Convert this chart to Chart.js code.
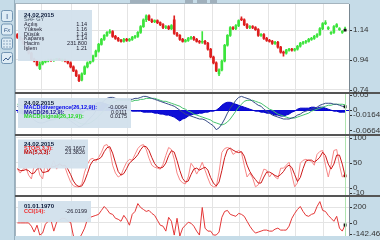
<!DOCTYPE html>
<html>
<head>
<meta charset="utf-8">
<script src="https://cdn.jsdelivr.net/npm/chart.js@4/dist/chart.umd.min.js"></script>
<style>
  html, body { margin: 0; padding: 0; background: #c6dce8; }
  #wrap { width: 380px; height: 240px; }
</style>
</head>
<body>
<div id="wrap"><canvas id="myChart" width="380" height="240"></canvas></div>
<script>
// daily candles SAFGY (open / high / low / close)
var opens = [
  1.110,1.091,1.077,1.051,1.025,0.985,0.945,0.932,0.880,0.912,
  0.926,0.932,0.939,0.935,0.941,0.945,0.939,0.942,0.932,0.919,
  0.893,0.866,0.833,0.805,0.846,0.893,0.919,0.932,0.965,0.998,
  1.044,1.077,1.104,1.124,1.130,1.097,1.084,1.071,1.064,1.077,
  1.071,1.077,1.091,1.097,1.124,1.163,1.209,1.236,1.209,1.196,
  1.203,1.190,1.176,1.157,1.163,1.150,1.209,1.117,1.104,1.077,
  1.064,1.071,1.084,1.091,1.077,1.064,1.058,1.064,1.051,1.011,
  0.959,0.919,0.846,0.872,0.932,1.038,1.104,1.157,1.150,1.170,
  1.216,1.209,1.176,1.157,1.163,1.157,1.143,1.104,1.110,1.084,
  1.071,1.064,1.051,1.058,1.025,0.992,0.985,1.005,1.011,1.005,
  1.011,1.031,1.051,1.058,1.064,1.077,1.084,1.097,1.110,1.150,
  1.183,1.150,1.117,1.124,1.163,1.143,1.124,1.137
];
var highs = [
  1.117,1.097,1.084,1.058,1.031,0.992,0.952,0.939,0.926,0.932,
  0.939,0.945,0.945,0.945,0.950,0.950,0.945,0.945,0.939,0.926,
  0.899,0.872,0.840,0.853,0.899,0.926,0.939,0.972,1.005,1.051,
  1.084,1.110,1.130,1.143,1.137,1.104,1.091,1.077,1.084,1.084,
  1.084,1.097,1.104,1.130,1.170,1.216,1.243,1.243,1.216,1.209,
  1.209,1.196,1.183,1.170,1.170,1.176,1.236,1.124,1.110,1.084,
  1.077,1.091,1.097,1.097,1.084,1.071,1.130,1.071,1.058,1.018,
  0.965,0.926,0.879,0.939,1.044,1.110,1.163,1.163,1.176,1.209,
  1.229,1.216,1.183,1.170,1.170,1.163,1.150,1.117,1.117,1.091,
  1.077,1.071,1.064,1.064,1.031,0.998,1.011,1.018,1.018,1.018,
  1.038,1.058,1.064,1.071,1.084,1.091,1.104,1.117,1.157,1.190,
  1.203,1.163,1.130,1.170,1.183,1.157,1.137,1.160
];
var lows = [
  1.084,1.071,1.044,1.018,0.978,0.939,0.926,0.899,0.873,0.905,
  0.919,0.926,0.930,0.930,0.935,0.935,0.932,0.926,0.912,0.886,
  0.860,0.826,0.793,0.799,0.840,0.886,0.912,0.926,0.959,0.992,
  1.038,1.071,1.097,1.117,1.091,1.077,1.064,1.058,1.058,1.064,
  1.064,1.071,1.084,1.091,1.117,1.157,1.196,1.203,1.190,1.190,
  1.183,1.170,1.150,1.150,1.143,1.143,1.110,1.097,1.071,1.058,
  1.058,1.064,1.077,1.071,1.058,1.051,1.051,1.044,1.005,0.952,
  0.912,0.860,0.833,0.866,0.926,1.031,1.097,1.143,1.143,1.163,
  1.203,1.170,1.150,1.150,1.150,1.137,1.097,1.097,1.077,1.064,
  1.058,1.044,1.044,1.018,0.985,0.965,0.978,0.998,0.998,0.998,
  1.005,1.025,1.044,1.051,1.058,1.071,1.077,1.091,1.104,1.143,
  1.176,1.143,1.110,1.117,1.157,1.137,1.117,1.137
];
var closes = [
  1.091,1.077,1.051,1.025,0.985,0.945,0.932,0.905,0.912,0.926,
  0.932,0.939,0.935,0.941,0.945,0.939,0.942,0.932,0.919,0.893,
  0.866,0.833,0.800,0.846,0.893,0.919,0.932,0.965,0.998,1.044,
  1.077,1.104,1.124,1.130,1.097,1.084,1.071,1.064,1.077,1.071,
  1.077,1.091,1.097,1.124,1.163,1.209,1.236,1.209,1.196,1.203,
  1.190,1.176,1.157,1.163,1.150,1.170,1.117,1.104,1.077,1.064,
  1.071,1.084,1.091,1.077,1.064,1.058,1.064,1.051,1.011,0.959,
  0.919,0.866,0.872,0.932,1.038,1.104,1.157,1.150,1.170,1.203,
  1.209,1.176,1.157,1.163,1.157,1.143,1.104,1.110,1.084,1.071,
  1.064,1.051,1.058,1.025,0.992,0.985,1.005,1.011,1.005,1.011,
  1.031,1.051,1.058,1.064,1.077,1.084,1.097,1.110,1.150,1.183,
  1.190,1.157,1.124,1.163,1.176,1.150,1.130,1.140
];

// MACD(26,12,9)
var macdLine = [
  0.0129,0.0065,0,-0.0065,-0.0161,-0.0258,-0.0323,-0.0387,-0.0419,-0.0419,
  -0.0387,-0.0355,-0.0323,-0.0290,-0.0258,-0.0226,-0.0226,-0.0258,-0.0290,-0.0355,
  -0.0419,-0.0484,-0.0548,-0.0516,-0.0452,-0.0355,-0.0258,-0.0161,-0.0032,0.0097,
  0.0226,0.0323,0.0387,0.0419,0.0419,0.0387,0.0355,0.0355,0.0355,0.0355,
  0.0355,0.0355,0.0387,0.0387,0.0419,0.0452,0.0452,0.0419,0.0387,0.0355,
  0.0323,0.0290,0.0258,0.0226,0.0194,0.0161,0.0129,0.0065,0,-0.0065,
  -0.0129,-0.0161,-0.0194,-0.0226,-0.0258,-0.0290,-0.0290,-0.0323,-0.0387,-0.0452,
  -0.0516,-0.0640,-0.0581,-0.0452,-0.0290,-0.0097,0.0065,0.0194,0.0323,0.0419,
  0.0452,0.0419,0.0387,0.0355,0.0290,0.0226,0.0161,0.0129,0.0032,-0.0032,
  -0.0097,-0.0161,-0.0194,-0.0226,-0.0258,-0.0290,-0.0290,-0.0290,-0.0258,-0.0226,
  -0.0161,-0.0129,-0.0065,-0.0032,0,0.0032,0.0065,0.0097,0.0161,0.0194,
  0.0226,0.0226,0.0226,0.0194,0.0194,0.0161,0.0129,0.0111
];
var macdSignal = [
  0.0194,0.0161,0.0129,0.0065,0,-0.0065,-0.0129,-0.0194,-0.0258,-0.0290,
  -0.0323,-0.0323,-0.0323,-0.0323,-0.0290,-0.0290,-0.0258,-0.0258,-0.0258,-0.0290,
  -0.0323,-0.0355,-0.0419,-0.0452,-0.0452,-0.0452,-0.0419,-0.0355,-0.0290,-0.0194,
  -0.0097,0,0.0097,0.0194,0.0258,0.0290,0.0323,0.0323,0.0323,0.0323,
  0.0323,0.0290,0.0323,0.0323,0.0355,0.0355,0.0387,0.0387,0.0387,0.0387,
  0.0355,0.0323,0.0290,0.0290,0.0258,0.0226,0.0194,0.0161,0.0129,0.0065,
  0.0032,-0.0032,-0.0065,-0.0129,-0.0161,-0.0194,-0.0226,-0.0258,-0.0290,-0.0323,
  -0.0387,-0.0419,-0.0452,-0.0484,-0.0452,-0.0387,-0.0290,-0.0161,-0.0032,0.0097,
  0.0194,0.0290,0.0323,0.0323,0.0323,0.0290,0.0258,0.0226,0.0161,0.0097,
  0.0032,0,-0.0065,-0.0129,-0.0161,-0.0194,-0.0226,-0.0258,-0.0258,-0.0258,
  -0.0226,-0.0194,-0.0161,-0.0129,-0.0097,-0.0032,0,0.0032,0.0065,0.0097,
  0.0129,0.0161,0.0161,0.0194,0.0194,0.0194,0.0194,0.0175
];
var macdHist = [
  -0.0065,-0.0097,-0.0129,-0.0129,-0.0161,-0.0194,-0.0194,-0.0194,-0.0161,-0.0129,
  -0.0097,-0.0065,-0.0032,0,0.0032,0.0065,0.0065,0.0032,0,-0.0032,
  -0.0065,-0.0097,-0.0129,-0.0097,-0.0032,0.0032,0.0097,0.0161,0.0226,0.0258,
  0.0258,0.0226,0.0194,0.0161,0.0129,0.0097,0.0065,0.0032,0.0032,0,
  0,-0.0032,-0.0032,-0.0032,-0.0032,-0.0065,-0.0065,-0.0065,-0.0065,-0.0097,
  -0.0097,-0.0129,-0.0129,-0.0161,-0.0161,-0.0194,-0.0226,-0.0290,-0.0355,-0.0290,
  -0.0258,-0.0194,-0.0161,-0.0129,-0.0129,-0.0097,-0.0097,-0.0065,-0.0065,-0.0032,
  -0.0032,0,0.0065,0.0161,0.0226,0.0258,0.0258,0.0226,0.0194,0.0161,
  0.0129,0.0097,0.0065,0.0032,0,-0.0032,-0.0032,-0.0065,-0.0065,-0.0097,
  -0.0097,-0.0129,-0.0161,-0.0161,-0.0194,-0.0194,-0.0161,-0.0129,-0.0065,-0.0032,
  0.0032,0.0065,0.0065,0.0065,0.0065,0.0097,0.0097,0.0065,0.0097,0.0097,
  0.0065,0.0032,0,-0.0032,-0.0032,-0.0065,-0.0065,-0.0064
];

// STO(5,3,3) and its MA
var stoK = [
  36.9,29.0,36.9,40.8,25.0,17.2,44.8,48.7,25.0,17.2,
  50.7,31.0,40.8,54.6,36.9,48.7,44.8,40.8,25.0,11.2,
  3.4,1.4,1.4,7.3,31.0,46.7,56.6,58.6,52.7,60.5,
  70.4,84.2,86.2,76.3,44.8,29.0,21.1,25.0,38.8,50.7,
  56.6,54.6,66.5,78.3,84.2,86.2,76.3,58.6,44.8,40.8,
  38.8,36.9,46.7,64.5,80.3,76.3,56.6,29.0,15.2,9.3,
  7.3,21.1,48.7,40.8,27.0,36.9,50.7,34.9,19.1,5.3,
  1.4,1.4,31.0,70.4,78.3,80.3,78.3,66.5,70.4,74.3,
  70.4,44.8,21.1,29.0,19.1,1.4,5.3,21.1,36.9,34.9,
  21.1,29.0,21.1,17.2,38.8,38.8,44.8,50.7,25.0,1.4,
  9.3,48.7,54.6,56.6,54.6,52.7,44.8,66.5,72.4,74.3,
  44.8,21.1,44.8,74.3,76.3,44.8,21.1,26.2
];
var stoMa = [
  38,34,34,36,34,28,29,37,40,30,
  31,33,41,42,44,47,43,45,37,26,
  13,5,2,3,13,28,45,54,56,57,
  61,72,80,82,69,50,32,25,28,38,
  49,54,59,66,76,83,82,74,60,48,
  41,39,41,49,64,74,71,54,34,18,
  11,13,26,37,39,35,38,41,35,20,
  9,3,11,34,60,76,79,75,72,70,
  72,63,45,32,23,16,9,9,21,31,
  31,28,24,22,26,32,41,45,40,26,
  12,20,38,53,55,55,51,55,61,71,
  64,47,37,47,65,65,47,23.4
];

// CCI(14)
var cci = [
  0,0,0,0,0,-41,-116,-29,-154,-129,
  -16,21,34,-104,9,34,59,59,21,9,
  -166,-191,-204,-141,-66,46,71,84,96,109,
  159,209,171,121,109,59,46,21,96,46,
  -29,109,146,246,196,171,146,159,121,96,
  34,-29,-41,-104,71,21,-154,59,-166,-66,
  -29,9,-4,-41,-104,-154,196,-66,-104,-104,
  -154,-154,-116,71,146,159,109,96,84,121,
  109,84,21,-41,-91,-129,-116,-104,-91,-91,
  -104,-104,-79,-66,-91,-91,-91,-41,59,121,
  171,209,146,96,84,109,121,209,271,159,
  146,96,59,21,84,-66,-104,-26.02
];

// month grid positions (in bar units) and right axis labels
var monthTicks = [8.78, 19.14, 29.13, 39.49, 49.49, 59.84, 69.84, 79.48, 89.48, 99.47, 109.47];
var priceTicks = [1.14, 0.94, 0.74];
var macdTicks = [0.05, 0, -0.0164, -0.0664];
var stoTicks = [100, 50, 0, -10];
var cciTicks = [200, 0, -142.4645];

// info boxes
var infoDate = '24.02.2015';
var symbol = 'SAF GY';
var priceInfoLabels = ['Açılış', 'Yüksek', 'Düşük', 'Kapanış', 'Hacim', 'İşlem'];
var priceInfoValues = ['1.14', '1.16', '1.14', '1.14', '231.800', '1.21'];
var macdInfoLabels = ['MACD(divergence(26,12,9)):', 'MACD(26,12,9):', 'MACD(signal(26,12,9)):'];
var macdInfoValues = ['-0.0064', '0.0111', '0.0175'];
var stoInfoLabels = ['STO(5,3,3):', 'MA(5,3,3):'];
var stoInfoValues = ['26.1667', '23.3826'];
var cciDate = '01.01.1970';
var cciInfoLabels = ['CCI(14):'];
var cciInfoValues = ['-26.0199'];

var N = closes.length;
var idx = closes.map(function (c, i) { return i; });
var UP = 'rgb(60,228,60)', DOWN = 'rgb(222,30,30)';
var FONT = '"Liberation Sans", Arial, sans-serif';

function candleColor(c) {
  var i = c.dataIndex;
  return closes[i] >= opens[i] ? UP : DOWN;
}
function lastOnly(r) {
  return function (c) { return c.dataIndex === N - 1 ? r : 0; };
}
function panelScale(order, weight, min, max, gridVals, gridColor) {
  return {
    type: 'linear', position: 'right', stack: 'panels', stackWeight: weight, weight: order,
    min: min, max: max, offset: false,
    ticks: { display: false },
    border: { display: false },
    grid: { drawTicks: false, color: gridColor || 'rgb(228,228,228)', lineWidth: 1 },
    afterBuildTicks: function (s) { s.ticks = gridVals.map(function (v) { return { value: v }; }); },
    afterFit: function (s) { s.width = 31; }
  };
}

function text(c, s, x, y, color, font, align) {
  c.fillStyle = color;
  c.font = font;
  c.textAlign = align || 'left';
  c.textBaseline = 'middle';
  c.fillText(s, x, y);
}
function infoBox(c, x, y, w, h) {
  c.fillStyle = 'rgba(210,225,236,0.96)';
  c.fillRect(x, y, w, h);
}

var deco = {
  id: 'deco',
  beforeDraw: function (chart) {
    var c = chart.ctx, a = chart.chartArea;
    c.save();
    c.fillStyle = '#c6dce8';
    c.fillRect(0, 0, chart.width, chart.height);
    c.fillStyle = '#ffffff';
    c.fillRect(a.left, a.top, a.right - a.left, a.bottom - a.top);
    c.restore();
  },
  afterDraw: function (chart) {
    var c = chart.ctx, a = chart.chartArea, sc = chart.scales;
    c.save();

    // crosshair on the last bar
    var lx = Math.round(sc.x.getPixelForValue(N - 1)) + 0.5;
    c.strokeStyle = 'rgb(175,228,175)';
    c.lineWidth = 1;
    c.beginPath(); c.moveTo(lx, sc.yM.top); c.lineTo(lx, a.bottom); c.stroke();

    // info boxes
    var bold = 'bold 6px ' + FONT, small = '5.5px ' + FONT;
    infoBox(c, 18, 10, 74, 51);
    text(c, infoDate, 24, 15, '#0a1838', bold);
    text(c, symbol, 24, 19.5, '#4a5a6a', small);
    priceInfoLabels.forEach(function (l, k) {
      text(c, l, 24, 24.5 + k * 4.8, '#223', small);
      text(c, priceInfoValues[k], 87, 24.5 + k * 4.8, '#223', small, 'right');
    });

    infoBox(c, 18, 98, 113, 30);
    text(c, infoDate, 24, 103, '#0a1838', bold);
    var macdCols = ['rgb(0,0,235)', 'rgb(20,20,140)', 'rgb(40,215,40)'];
    macdInfoLabels.forEach(function (l, k) {
      text(c, l, 24, 107.5 + k * 4.6, macdCols[k], 'bold 5.5px ' + FONT);
      text(c, macdInfoValues[k], 127, 107.5 + k * 4.6, '#223', small, 'right');
    });

    infoBox(c, 18, 139.5, 70, 29);
    text(c, infoDate, 24, 144, '#0a1838', bold);
    var stoCols = ['rgb(240,40,40)', 'rgb(190,0,0)'];
    stoInfoLabels.forEach(function (l, k) {
      text(c, l, 24, 148.3 + k * 4.3, stoCols[k], 'bold 5.5px ' + FONT);
      text(c, stoInfoValues[k], 85, 148.3 + k * 4.3, '#223', small, 'right');
    });

    infoBox(c, 18, 201, 73, 21);
    text(c, cciDate, 24, 206.5, '#0a1838', bold);
    cciInfoLabels.forEach(function (l, k) {
      text(c, l, 24, 211 + k * 4.3, 'rgb(240,40,40)', 'bold 5.5px ' + FONT);
      text(c, cciInfoValues[k], 87, 211 + k * 4.3, '#223', small, 'right');
    });

    // right panel border and top border
    c.fillStyle = 'rgb(120,135,145)';
    c.fillRect(a.right, a.top, 1, a.bottom - a.top);
    c.fillStyle = 'rgb(165,180,190)';
    c.fillRect(a.left - 1, a.top - 1, a.right - a.left + 1, 1);
    c.fillRect(a.left - 1, a.top, 1, a.bottom - a.top);

    // panel separators
    c.fillStyle = 'rgb(85,85,85)';
    [sc.yM.top, sc.yS.top, sc.yC.top].forEach(function (y) {
      c.fillRect(a.left - 1, Math.round(y) - 1, chart.width - a.left + 1, 2);
    });

    // right axis labels
    var lab = '8px ' + FONT;
    [[sc.yP, priceTicks], [sc.yM, macdTicks], [sc.yS, stoTicks], [sc.yC, cciTicks]].forEach(function (p) {
      p[1].forEach(function (v) {
        var y = p[0].getPixelForValue(v);
        c.fillStyle = '#333';
        c.fillRect(a.right + 1, Math.round(y), 2, 1);
        text(c, String(v), a.right + 4, y, '#333', lab);
      });
    });

    // left tool buttons
    c.fillStyle = 'rgb(150,175,190)';
    c.fillRect(14, 0, 1, chart.height);
    [10, 23.5, 37.5, 52].forEach(function (y, k) {
      c.fillStyle = 'rgb(222,236,245)';
      c.strokeStyle = 'rgb(115,150,180)';
      c.beginPath();
      c.roundRect(1.5, y + 0.5, 11, 11, 2);
      c.fill(); c.stroke();
      c.strokeStyle = 'rgb(60,95,140)';
      c.fillStyle = 'rgb(60,95,140)';
      if (k === 0) {
        text(c, 'I', 7, y + 6.5, 'rgb(60,95,140)', '8px ' + FONT, 'center');
      } else if (k === 1) {
        text(c, 'Fx', 7, y + 6.5, 'rgb(60,95,140)', 'italic 6px ' + FONT, 'center');
      } else if (k === 2) {
        for (var r = 0; r < 3; r++) for (var q = 0; q < 3; q++) c.fillRect(3.5 + q * 3, y + 3 + r * 3, 1, 1);
      } else {
        c.beginPath(); c.moveTo(3, y + 9); c.lineTo(6, y + 6); c.lineTo(8, y + 8); c.lineTo(11, y + 4); c.stroke();
      }
    });

    // top toolbar bits
    c.fillStyle = 'rgb(160,176,188)';
    [[130, 20], [185, 8], [197, 10], [210, 7]].forEach(function (t) { c.fillRect(t[0], 0, t[1], 3); });

    c.restore();
  }
};

var ctx = document.getElementById('myChart').getContext('2d');
var chart = new Chart(ctx, {
  type: 'bar',
  data: {
    labels: idx,
    datasets: [
      // price panel
      {
        type: 'line', label: 'last', yAxisID: 'yP', data: closes, showLine: false,
        pointRadius: lastOnly(2), pointStyle: 'rect', pointBackgroundColor: '#111', pointBorderWidth: 0
      },
      {
        label: 'body', yAxisID: 'yP', grouped: false, barThickness: 2, minBarLength: 1,
        data: opens.map(function (o, i) { return { x: i, y: [o, closes[i]] }; }),
        backgroundColor: candleColor
      },
      {
        label: 'wick', yAxisID: 'yP', grouped: false, barThickness: 1,
        data: lows.map(function (l, i) { return { x: i, y: [l, highs[i]] }; }),
        backgroundColor: candleColor
      },
      // MACD panel
      {
        type: 'line', label: 'MACD', yAxisID: 'yM', data: macdLine,
        borderColor: 'rgb(55,75,135)', borderWidth: 1, pointRadius: lastOnly(2),
        pointStyle: 'rect', pointBackgroundColor: '#111', pointBorderWidth: 0, tension: 0
      },
      {
        type: 'line', label: 'signal', yAxisID: 'yM', data: macdSignal,
        borderColor: 'rgb(70,195,110)', borderWidth: 1, pointRadius: 0, tension: 0
      },
      {
        type: 'line', label: 'divergence', yAxisID: 'yM', data: macdHist,
        borderColor: 'rgb(0,0,200)', backgroundColor: 'rgb(15,15,215)', fill: 'origin',
        borderWidth: 1, pointRadius: 0, tension: 0
      },
      // STO panel
      {
        type: 'line', label: 'MA', yAxisID: 'yS', data: stoMa,
        borderColor: 'rgb(205,25,25)', borderWidth: 1, pointRadius: lastOnly(2),
        pointStyle: 'rect', pointBackgroundColor: 'rgb(150,0,0)', pointBorderWidth: 0, tension: 0
      },
      {
        type: 'line', label: 'STO', yAxisID: 'yS', data: stoK,
        borderColor: 'rgb(248,135,135)', borderWidth: 1, pointRadius: 0, tension: 0
      },
      // CCI panel
      {
        type: 'line', label: 'CCI', yAxisID: 'yC', data: cci,
        borderColor: 'rgb(228,55,55)', borderWidth: 1, pointRadius: lastOnly(2),
        pointStyle: 'rect', pointBackgroundColor: '#111', pointBorderWidth: 0, tension: 0
      }
    ]
  },
  options: {
    responsive: false,
    animation: false,
    events: [],
    layout: { padding: { left: 16, top: 4, right: 0, bottom: 0 } },
    plugins: { legend: { display: false }, tooltip: { enabled: false } },
    scales: {
      x: {
        type: 'linear', min: -0.5, max: 118.4, offset: false,
        ticks: { display: false },
        border: { display: false },
        grid: { offset: false, drawTicks: false, color: 'rgb(228,228,228)' },
        afterBuildTicks: function (s) { s.ticks = monthTicks.map(function (v) { return { value: v }; }); },
        afterFit: function (s) { s.height = 0; }
      },
      yP: panelScale(1, 91, 0.714, 1.315, priceTicks),
      yM: panelScale(2, 42, -0.0806, 0.0548, [0], 'rgb(0,0,210)'),
      yS: panelScale(3, 62, -16.4, 105.9, [100, 50, 0]),
      yC: panelScale(4, 41, -166, 346, [200, 0])
    }
  },
  plugins: [deco]
});
</script>
</body>
</html>
